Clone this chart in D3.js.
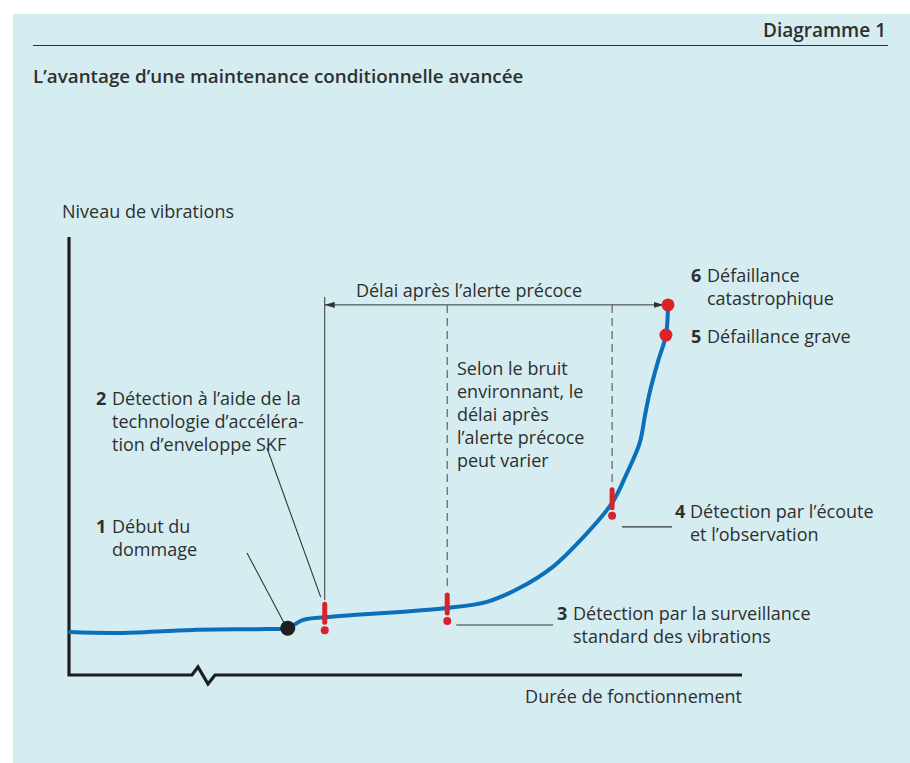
<!DOCTYPE html>
<html>
<head>
<meta charset="utf-8">
<script src="https://cdn.jsdelivr.net/npm/d3@7"></script>
<style>
  body { margin: 0; background: #fff; }
  svg { display: block; font-family: "Open Sans", Roboto, sans-serif; }
</style>
</head>
<body>
<svg class="chart"></svg>
<script>
// curve of vibration level over operating time (x: 0-100, y: 0-100)
const timeValues = [0.15, 7.1, 18.4, 29.4, 32.5, 34.8, 38.0, 42.2, 49.2, 56.2, 62.1, 67.0, 71.9, 74.9, 80.7, 82.9, 84.8, 85.6, 86.3, 87.5, 88.7, 89.0];
const levelValues = [9.8, 9.6, 10.3, 10.5, 10.7, 12.6, 13.2, 13.7, 14.4, 15.3, 16.7, 19.9, 24.7, 29.0, 39.3, 46.1, 53.0, 59.4, 64.6, 71.5, 77.6, 84.5];

const damageStart = { t: 32.5, v: 10.7 };
const alertTimes = [38.0, 56.2, 80.7];
const alertLevels = [13.2, 15.3, 39.3];
const failureTimes = [88.7, 89.0];
const failureLevels = [77.6, 84.5];
const delayEnd = 88.4;

const labels = [
  { n: '1', lines: ['Début du', 'dommage'] },
  { n: '2', lines: ['Détection à l’aide de la', 'technologie d’accéléra-', 'tion d’enveloppe SKF'] },
  { n: '3', lines: ['Détection par la surveillance', 'standard des vibrations'] },
  { n: '4', lines: ['Détection par l’écoute', 'et l’observation'] },
  { n: '5', lines: ['Défaillance grave'] },
  { n: '6', lines: ['Défaillance', 'catastrophique'] }
];
const noteLines = ['Selon le bruit', 'environnant, le', 'délai après', 'l’alerte précoce', 'peut varier'];

const width = 910;
const height = 763;
const fs = 18;
const textColor = '#2f2f2f';
const blue = '#0b6fba';
const red = '#d8232a';

const svg = d3.select('.chart')
  .attr('width', width)
  .attr('height', height);

svg.append('rect')
  .attr('x', 13).attr('y', 14)
  .attr('width', width - 13).attr('height', height - 14)
  .attr('fill', '#d5edf1');

// header
svg.append('text')
  .attr('x', 886).attr('y', 37)
  .attr('text-anchor', 'end')
  .attr('font-size', 19).attr('font-weight', 600)
  .attr('fill', textColor)
  .text('Diagramme 1');

svg.append('line')
  .attr('x1', 33).attr('x2', 888)
  .attr('y1', 45.5).attr('y2', 45.5)
  .attr('stroke', '#333').attr('stroke-width', 1.2);

svg.append('text')
  .attr('x', 33).attr('y', 83)
  .attr('font-size', 18.8).attr('font-weight', 600)
  .attr('fill', textColor)
  .text('L’avantage d’une maintenance conditionnelle avancée');

const x = d3.scaleLinear().domain([0, 100]).range([69, 742]);
const y = d3.scaleLinear().domain([0, 100]).range([675, 237]);

// axes with a break
const breakPath = d3.path();
breakPath.moveTo(x(0), y(100));
breakPath.lineTo(x(0), y(0));
breakPath.lineTo(192, y(0));
breakPath.lineTo(198, y(0) - 8);
breakPath.lineTo(208, y(0) + 9);
breakPath.lineTo(215, y(0));
breakPath.lineTo(x(100), y(0));

svg.append('path')
  .attr('d', breakPath.toString())
  .attr('fill', 'none')
  .attr('stroke', '#1e1e1e')
  .attr('stroke-width', 3.2)
  .attr('stroke-linejoin', 'miter');

svg.append('text')
  .attr('x', 62).attr('y', 218)
  .attr('font-size', fs).attr('fill', textColor)
  .text('Niveau de vibrations');

svg.append('text')
  .attr('x', x(100)).attr('y', 703)
  .attr('text-anchor', 'end')
  .attr('font-size', fs).attr('fill', textColor)
  .text('Durée de fonctionnement');

// arrow markers
const defs = svg.append('defs');
defs.append('marker')
  .attr('id', 'arrow')
  .attr('viewBox', '0 0 10 6')
  .attr('refX', 10).attr('refY', 3)
  .attr('markerWidth', 10).attr('markerHeight', 6)
  .attr('markerUnits', 'userSpaceOnUse')
  .attr('orient', 'auto-start-reverse')
  .append('path')
  .attr('d', 'M0,0L10,3L0,6Z')
  .attr('fill', '#333');

const topY = y(failureLevels[1]);

// delay dimension line
svg.append('line')
  .attr('x1', x(alertTimes[0])).attr('x2', x(delayEnd))
  .attr('y1', topY).attr('y2', topY)
  .attr('stroke', '#333').attr('stroke-width', 1)
  .attr('marker-start', 'url(#arrow)')
  .attr('marker-end', 'url(#arrow)');

svg.append('text')
  .attr('x', 469).attr('y', 297)
  .attr('text-anchor', 'middle')
  .attr('font-size', fs).attr('fill', textColor)
  .text('Délai après l’alerte précoce');

// vertical guides
svg.append('line')
  .attr('x1', x(alertTimes[0])).attr('x2', x(alertTimes[0]))
  .attr('y1', topY - 8).attr('y2', y(alertLevels[0]) - 17)
  .attr('stroke', '#333').attr('stroke-width', 1);

alertTimes.slice(1).forEach((t, i) => {
  svg.append('line')
    .attr('x1', x(t)).attr('x2', x(t))
    .attr('y1', topY).attr('y2', y(alertLevels[i + 1]) - 17)
    .attr('stroke', '#555').attr('stroke-width', 1.1)
    .attr('stroke-dasharray', '8,5');
});

// note text
svg.append('text')
  .attr('font-size', fs).attr('fill', textColor)
  .selectAll('tspan')
  .data(noteLines)
  .join('tspan')
  .attr('x', 457)
  .attr('y', (d, i) => 375 + i * 23)
  .text(d => d);

// curve
const curveData = timeValues.map((t, i) => ({ t, v: levelValues[i] }));
const line = d3.line()
  .x(d => x(d.t))
  .y(d => y(d.v))
  .curve(d3.curveCatmullRom.alpha(0.5));

svg.append('path')
  .datum(curveData)
  .attr('d', line)
  .attr('fill', 'none')
  .attr('stroke', blue)
  .attr('stroke-width', 4)
  .attr('stroke-linecap', 'round');

// leader lines
const leaders = [
  [[247, 553], [x(damageStart.t) - 4, y(damageStart.v) - 6]],
  [[267, 448], [x(alertTimes[0]) - 4, y(alertLevels[0]) - 20]],
  [[x(alertTimes[1]) + 9, y(alertLevels[1]) + 17], [553, y(alertLevels[1]) + 17]],
  [[x(alertTimes[2]) + 10, y(alertLevels[2]) + 24], [672, y(alertLevels[2]) + 24]]
];
svg.selectAll('.leader')
  .data(leaders)
  .join('line')
  .attr('class', 'leader')
  .attr('x1', d => d[0][0]).attr('y1', d => d[0][1])
  .attr('x2', d => d[1][0]).attr('y2', d => d[1][1])
  .attr('stroke', '#333').attr('stroke-width', 1.1);

// damage start point
svg.append('circle')
  .attr('cx', x(damageStart.t)).attr('cy', y(damageStart.v))
  .attr('r', 7.5)
  .attr('fill', '#1f1f1f');

// exclamation marks
const bangs = svg.selectAll('.bang')
  .data(alertTimes.map((t, i) => ({ t, v: alertLevels[i] })))
  .join('g')
  .attr('class', 'bang')
  .attr('transform', d => `translate(${x(d.t)},${y(d.v)})`);

bangs.append('line')
  .attr('x1', 0).attr('x2', 0)
  .attr('y1', -13).attr('y2', 5)
  .attr('stroke', red).attr('stroke-width', 5)
  .attr('stroke-linecap', 'round');

bangs.append('circle')
  .attr('cy', 13).attr('r', 4)
  .attr('fill', red);

// failure points
svg.selectAll('.fail')
  .data(failureTimes.map((t, i) => ({ t, v: failureLevels[i] })))
  .join('circle')
  .attr('class', 'fail')
  .attr('cx', d => x(d.t)).attr('cy', d => y(d.v))
  .attr('r', 6.5)
  .attr('fill', red);

// numbered labels
const labelPos = [
  { nx: 96, tx: 112, y: 533 },
  { nx: 96, tx: 112, y: 405 },
  { nx: 557, tx: 573, y: 620 },
  { nx: 675, tx: 690, y: 518 },
  { nx: 691, tx: 707, y: 343 },
  { nx: 691, tx: 707, y: 282 }
];

labels.forEach((lab, i) => {
  const p = labelPos[i];
  svg.append('text')
    .attr('x', p.nx).attr('y', p.y)
    .attr('font-size', fs).attr('font-weight', 'bold')
    .attr('fill', textColor)
    .text(lab.n);
  svg.append('text')
    .attr('font-size', fs).attr('fill', textColor)
    .selectAll('tspan')
    .data(lab.lines)
    .join('tspan')
    .attr('x', p.tx)
    .attr('y', (d, j) => p.y + j * 23)
    .text(d => d);
});
</script>
</body>
</html>
